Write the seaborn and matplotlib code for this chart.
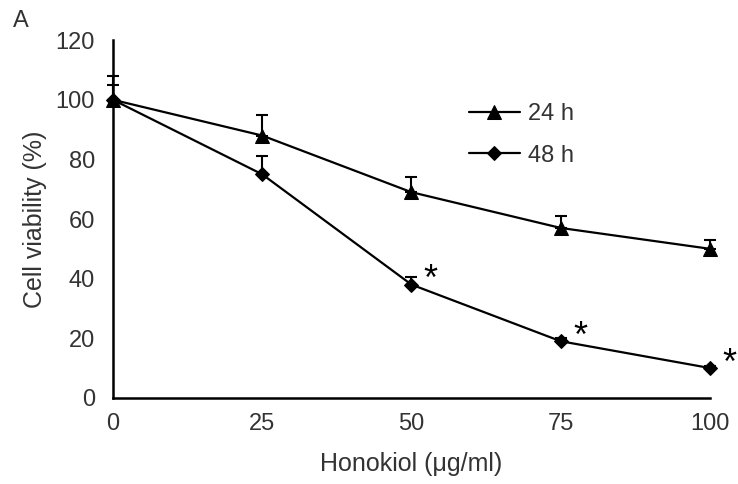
import matplotlib
matplotlib.use("Agg")
import matplotlib.pyplot as plt
import seaborn as sns
import pandas as pd
import numpy as np

doses = [0, 25, 50, 75, 100]
v24 = [100, 88, 69, 57, 50]
e24 = [8, 7, 5, 4, 3]
v48 = [100, 75, 38, 19, 10]
e48 = [5, 6, 2.5, 1, 0.7]
series = ["24 h", "48 h"]
sig_doses = [50, 75, 100]
x_ticks = [0, 25, 50, 75, 100]
y_ticks = [0, 20, 40, 60, 80, 100, 120]

sns.set_theme(style="white")
plt.rcParams['font.family'] = ['Liberation Sans', 'DejaVu Sans']

df = pd.DataFrame({
    "dose": doses * 2,
    "viability": v24 + v48,
    "series": [series[0]] * len(doses) + [series[1]] * len(doses),
})

fig = plt.figure(figsize=(7.38, 4.84), dpi=100)
ax = fig.add_axes([0.153, 0.178, 0.809, 0.739])

text_col = "#333333"

for vals, errs in [(v24, e24), (v48, e48)]:
    ax.errorbar(doses, vals, yerr=[np.zeros(len(errs)), errs], fmt="none",
                ecolor="black", elinewidth=1.5, capsize=4.5, capthick=1.5,
                clip_on=False, zorder=2)

sns.lineplot(data=df, x="dose", y="viability", hue="series", style="series",
             markers={"24 h": "^", "48 h": "D"}, dashes=False,
             palette={"24 h": "black", "48 h": "black"},
             markersize=9, linewidth=1.6, markeredgecolor="black",
             ax=ax, clip_on=False, zorder=3)
for line in ax.lines:
    line.set_clip_on(False)
    if line.get_marker() == "D":
        line.set_markersize(7.5)
    elif line.get_marker() == "^":
        line.set_markersize(10)

for d in sig_doses:
    y = v48[doses.index(d)]
    ax.annotate("*", xy=(d, y), xytext=(14, -4), textcoords="offset points",
                fontsize=26, color="black", ha="center", va="baseline")

ax.set_xlim(0, 100)
ax.set_ylim(0, 120)
ax.set_xticks(x_ticks)
ax.set_yticks(y_ticks)
ax.tick_params(direction="in", length=5, width=1.5, colors="black",
               labelsize=17, labelcolor=text_col)
ax.tick_params(axis="y", pad=13)
ax.tick_params(axis="x", pad=11)
for s in ["top", "right"]:
    ax.spines[s].set_visible(False)
for s in ["left", "bottom"]:
    ax.spines[s].set_linewidth(1.8)
    ax.spines[s].set_color("black")
ax.set_xlabel("Honokiol (μg/ml)", fontsize=18, color=text_col, labelpad=12)
ax.set_ylabel("Cell viability (%)", fontsize=18, color=text_col, labelpad=6)

leg = ax.legend(loc="upper left", bbox_to_anchor=(0.56, 0.883), frameon=False,
                fontsize=17, labelspacing=0.82, handlelength=2.2,
                handletextpad=0.3, labelcolor=text_col)

fig.text(0.018, 0.945, "A", fontsize=17, color=text_col)

fig.savefig("out.png", dpi=100)
